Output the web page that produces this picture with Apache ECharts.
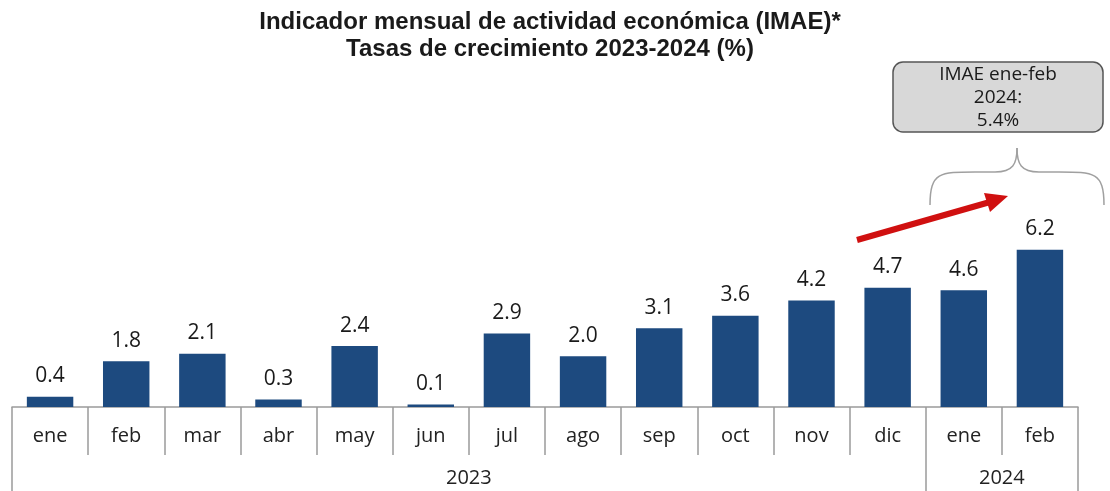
<!DOCTYPE html>
<html>
<head>
<meta charset="utf-8">
<script src="https://cdn.jsdelivr.net/npm/echarts@6/dist/echarts.min.js"></script>
<style>
  html, body { margin: 0; padding: 0; background: #fff; }
  #chart { width: 1110px; height: 491px; }
</style>
</head>
<body>
<div id="chart"></div>
<script>
// data
var months = ['ene', 'feb', 'mar', 'abr', 'may', 'jun', 'jul', 'ago', 'sep', 'oct', 'nov', 'dic', 'ene', 'feb'];
var growth = [0.4, 1.8, 2.1, 0.3, 2.4, 0.1, 2.9, 2.0, 3.1, 3.6, 4.2, 4.7, 4.6, 6.2];
var years = ['2023', '2024'];
var yearSpans = [12, 2];
var noteLines = ['IMAE ene-feb', '2024:', '5.4%'];

var barColor = '#1d4a7f';
var lineColor = '#9a9a9a';
var txtFont = '"Open Sans", "Noto Sans", sans-serif';

// year group boundaries and centres, in category units
var yearEdges = [0], yearCenters = [];
var acc = 0;
for (var i = 0; i < yearSpans.length; i++) {
    yearCenters.push(acc + yearSpans[i] / 2);
    acc += yearSpans[i];
    yearEdges.push(acc);
}

// curly brace made of bezier pieces
function brace(x1, x2, yEnd, yMid, yTip) {
    var xm = (x1 + x2) / 2;
    var st = { fill: 'none', stroke: '#a0a0a0', lineWidth: 1.5 };
    return [
        { type: 'bezierCurve', shape: { x1: x1, y1: yEnd, cpx1: x1, cpy1: yMid, cpx2: x1 + 10, cpy2: yMid, x2: x1 + 45, y2: yMid }, style: st },
        { type: 'line', shape: { x1: x1 + 45, y1: yMid, x2: xm - 22, y2: yMid }, style: st },
        { type: 'bezierCurve', shape: { x1: xm - 22, y1: yMid, cpx1: xm - 4, cpy1: yMid, cpx2: xm, cpy2: yMid - 8, x2: xm, y2: yTip }, style: st },
        { type: 'bezierCurve', shape: { x1: xm, y1: yTip, cpx1: xm, cpy1: yMid - 8, cpx2: xm + 4, cpy2: yMid, x2: xm + 22, y2: yMid }, style: st },
        { type: 'line', shape: { x1: xm + 22, y1: yMid, x2: x2 - 45, y2: yMid }, style: st },
        { type: 'bezierCurve', shape: { x1: x2 - 45, y1: yMid, cpx1: x2 - 10, cpy1: yMid, cpx2: x2, cpy2: yMid, x2: x2, y2: yEnd }, style: st }
    ];
}

var myChart = echarts.init(document.getElementById('chart'));
var option = {
    animation: false,
    title: {
        text: 'Indicador mensual de actividad económica (IMAE)*\nTasas de crecimiento 2023-2024 (%)',
        left: 545,
        textAlign: 'center',
        top: 4,
        textStyle: {
            fontFamily: '"Liberation Sans", Arial, sans-serif',
            fontSize: 24,
            fontWeight: 'bold',
            color: '#1a1a1a',
            lineHeight: 27
        }
    },
    grid: { left: 12, right: 32, top: 204, bottom: 84 },
    xAxis: [{
        type: 'category',
        data: months,
        axisLine: { show: true, lineStyle: { color: lineColor, width: 1.5 } },
        axisTick: { show: true, interval: 0, length: 48, lineStyle: { color: lineColor, width: 1.5 } },
        axisLabel: { interval: 0, margin: 19, fontSize: 20, color: '#222', fontFamily: txtFont }
    }, {
        type: 'value',
        position: 'bottom',
        min: 0,
        max: yearEdges[yearEdges.length - 1],
        splitLine: { show: false },
        axisLine: { show: false },
        axisTick: { show: true, customValues: yearEdges, length: 90, lineStyle: { color: lineColor, width: 1.5 } },
        axisLabel: {
            customValues: yearCenters,
            margin: 61,
            fontSize: 20,
            color: '#222',
            fontFamily: txtFont,
            formatter: function (v) {
                var idx = yearCenters.indexOf(v);
                return idx >= 0 ? years[idx] : '';
            }
        }
    }],
    yAxis: {
        type: 'value',
        min: 0,
        max: 8,
        show: false,
        splitLine: { show: false }
    },
    series: [{
        type: 'bar',
        data: growth,
        barCategoryGap: '39%',
        itemStyle: { color: barColor },
        label: {
            show: true,
            position: 'top',
            distance: 10,
            fontSize: 21,
            fontWeight: 500,
            color: '#1a1a1a',
            fontFamily: txtFont,
            formatter: function (p) { return p.value.toFixed(1); }
        }
    }],
    graphic: [{
        type: 'rect',
        shape: { x: 893, y: 62, width: 210, height: 70, r: 10 },
        style: { fill: '#d8d8d8', stroke: '#555', lineWidth: 1.5 }
    }, {
        type: 'text',
        x: 998,
        y: 63,
        style: {
            text: noteLines.join('\n'),
            align: 'center',
            fontSize: 19,
            lineHeight: 23,
            fill: '#1a1a1a',
            fontFamily: txtFont
        }
    }].concat(brace(930, 1104, 205, 172, 148)).concat([{
        type: 'line',
        shape: { x1: 857, y1: 240, x2: 990, y2: 202 },
        style: { stroke: '#d01010', lineWidth: 6 }
    }, {
        type: 'polygon',
        shape: { points: [[1008, 196], [984, 193], [990, 212]] },
        style: { fill: '#d01010' }
    }])
};
myChart.setOption(option);
</script>
</body>
</html>
